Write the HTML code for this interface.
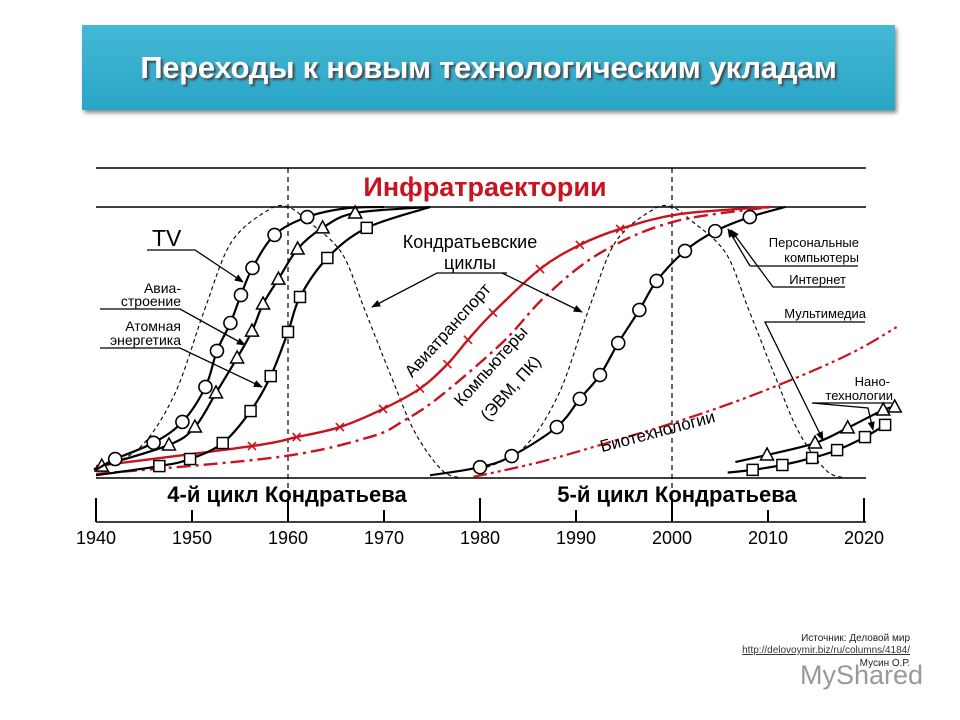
<!DOCTYPE html>
<html><head><meta charset="utf-8"><style>
body{margin:0;width:960px;height:720px;background:#fff;overflow:hidden;font-family:"Liberation Sans",sans-serif;position:relative}
#hdr{position:absolute;left:82px;top:25px;width:813px;height:85px;background:linear-gradient(#45b8d6,#2aa5c6);box-shadow:2px 3px 4px rgba(0,0,0,0.45);display:flex;align-items:center;justify-content:center}
#hdr span{color:#fff;font-weight:bold;font-size:31px;text-shadow:2px 2px 2px #444;letter-spacing:-0.3px;white-space:nowrap}
.src{position:absolute;right:50px;font-size:10px;color:#222;text-align:right}
</style></head><body>
<div id="hdr"><span>Переходы к новым технологическим укладам</span></div>
<svg id="chart" width="960" height="720" style="position:absolute;left:0;top:0"></svg>
<div class="src" style="top:633px">Источник: Деловой мир</div>
<div class="src" style="top:645px;text-decoration:underline;color:#333">http://delovoymir.biz/ru/columns/4184/</div>
<div class="src" style="top:658px">Мусин О.Р.</div>
<div style="position:absolute;left:800px;top:660px;font-size:27px;color:#777;opacity:0.75">MyShared</div>
<script>
const tickYears=[1940,1950,1960,1970,1980,1990,2000,2010,2020];
const tvYears=[1940,1942,1946,1949,1951.4,1952.6,1954,1955.1,1956.3,1958.6,1962,1966,1970];
const tvValues=[3,7,13,20.7,33.6,46.9,57.2,67.5,77.5,89.7,96.3,99.5,100];
const aviaYears=[1940,1940.6,1947.6,1950.3,1952.5,1954.7,1956.25,1957.4,1959,1961,1963.6,1967,1974.8];
const aviaValues=[3,4.4,12.2,18.8,31.4,44.3,54.2,64.2,73.4,84.5,92.3,97.8,100];
const atomYears=[1940,1946.6,1949.8,1953.2,1956.1,1958.2,1960,1961.25,1964.1,1968.2,1974.8];
const atomValues=[1,4.4,7,12.9,24.7,37.6,53.9,66.8,81.2,92.3,100];
const airYears=[1940,1956.25,1960.9,1965.4,1969.9,1973.75,1976.6,1978.75,1981.35,1986.25,1990.4,1994.6,2000.8,2010.2];
const airValues=[4.4,11.8,15.1,18.8,25.5,33,42,51,61,77.1,86,91.9,97.4,100];
const compYears=[1940,1958.9,1968.5,1972,1975.8,1982.4,1986.8,1992.5,2000.1,2010.2];
const compValues=[1.5,7.7,15.1,21,30,50.2,67,83,94.5,100];
const k1Years=[1940,1944.5,1948.2,1951.3,1954.1,1958,1960,1962,1965.6,1968,1970.8,1973.2,1976,1978];
const k1Values=[3,11,31,62,87,99,100,95,83,62,37,17,3,0];
const k2Years=[1980,1984.5,1988.2,1991.3,1994.1,1998,2000,2002,2005.6,2008,2010.8,2013.2,2016,2018];
const k2Values=[3,11,31,62,87,99,100,95,83,62,37,17,3,0];
const pcYears=[1974.8,1980,1983.3,1988,1990.4,1992.5,1994.4,1996.6,1998.4,2001.35,2004.5,2008.1,2011.8];
const pcValues=[1,4,8.1,18.8,29.2,38,49.8,62,72.7,83.8,91.1,96.3,100];
const bioYears=[1979.3,1986.25,1993.2,2000.1,2007.1,2014.1,2019.3,2023.4];
const bioValues=[0.4,5.9,12.9,20.3,28.8,38.7,47.2,55.7];
const nanoTYears=[2006.6,2009.9,2014.9,2018.3,2022,2023.2];
const nanoTValues=[5.9,8.5,12.9,18.5,25.1,26.2];
const nanoSYears=[2005.8,2008.4,2011.5,2014.6,2017.2,2020.1,2022.2];
const nanoSValues=[2,3,4.8,7.4,10.3,15.1,19.6];

const svg=document.getElementById('chart');const NS='http://www.w3.org/2000/svg';
const X=y=>96+(y-1940)*9.6;const Y=v=>478-v*2.71;
function el(t,a,p){const e=document.createElementNS(NS,t);for(const k in a)e.setAttribute(k,a[k]);(p||svg).appendChild(e);return e;}
function smooth(xs,vs){const p=xs.map((x,i)=>[X(x),Y(vs[i])]);let d='M'+p[0][0]+','+p[0][1];
for(let i=0;i<p.length-1;i++){const p0=p[i-1]||p[i],p1=p[i],p2=p[i+1],p3=p[i+2]||p2;
d+=' C'+(p1[0]+(p2[0]-p0[0])/6)+','+(p1[1]+(p2[1]-p0[1])/6)+' '+(p2[0]-(p3[0]-p1[0])/6)+','+(p2[1]-(p3[1]-p1[1])/6)+' '+p2[0]+','+p2[1];}return d;}
function line(x1,y1,x2,y2,name,extra){const l=el('line',Object.assign({x1,y1,x2,y2,stroke:'#000','stroke-width':1.5},extra||{}));

return l;}
function text(x,y,s,size,name,extra){const t=el('text',Object.assign({x,y,'font-size':size,'font-family':'Liberation Sans, sans-serif'},extra||{}));t.textContent=s;

return t;}
line(96,168,866,168,'top-rule');line(96,207,866,207,'saturation-line');line(96,478,866,478,'baseline');line(96,522,866,522,'x-axis');
tickYears.forEach(y=>{const tall=(y-1940)%20===0;line(X(y),tall?498:510,X(y),522,'x-tick',{'stroke-width':2});
text(X(y),544,String(y),18,'x-tick-label',{'text-anchor':'middle'});});
[1960,2000].forEach(y=>line(X(y),168,X(y),522,'cycle-divider',{'stroke-width':1.2,'stroke-dasharray':'5,4'}));
text(485,196,'Инфратраектории',27,'infra-title',{'text-anchor':'middle','font-weight':'bold',fill:'#c8141e'});
text(287,502,'4-й цикл Кондратьева',22,'cycle-4-label',{'text-anchor':'middle','font-weight':'bold'});
text(677,502,'5-й цикл Кондратьева',22,'cycle-5-label',{'text-anchor':'middle','font-weight':'bold'});
function series(xs,vs,name,style,marker,ms,me){const p=el('path',Object.assign({d:smooth(xs,vs),fill:'none'},style));


for(let i=ms;i<xs.length-me;i++){const cx=X(xs[i]),cy=Y(vs[i]);let m;
if(marker==='circle')m=el('circle',{cx,cy,r:6.5,fill:'#fff',stroke:'#000','stroke-width':1.6});
else if(marker==='tri')m=el('polygon',{points:(cx)+','+(cy-7)+' '+(cx-6.5)+','+(cy+5)+' '+(cx+6.5)+','+(cy+5),fill:'#fff',stroke:'#000','stroke-width':1.5});
else if(marker==='sq')m=el('rect',{x:cx-5.5,y:cy-5.5,width:11,height:11,fill:'#fff',stroke:'#000','stroke-width':1.5});
else if(marker==='x')m=el('path',{d:`M${cx-4},${cy-4}L${cx+4},${cy+4}M${cx-4},${cy+4}L${cx+4},${cy-4}`,stroke:'#c8141e','stroke-width':1.6});
if(m){
}}}
const blk={stroke:'#000','stroke-width':2.2};const red='#c8141e';
series(k1Years,k1Values,'kondratiev-wave-4',{stroke:'#000','stroke-width':1.1,'stroke-dasharray':'4,3'},null,0,0);
series(k2Years,k2Values,'kondratiev-wave-5',{stroke:'#000','stroke-width':1.1,'stroke-dasharray':'4,3'},null,0,0);
series(compYears,compValues,'computers-line',{stroke:red,'stroke-width':2.4,'stroke-dasharray':'14,5,3,5'},null,0,0);
series(bioYears,bioValues,'biotech-line',{stroke:red,'stroke-width':2.2,'stroke-dasharray':'14,4,3,4,3,4'},null,0,0);
series(airYears,airValues,'air-transport-line',{stroke:red,'stroke-width':2.4},'x',1,2);
series(atomYears,atomValues,'nuclear-energy-line',blk,'sq',1,1);
series(aviaYears,aviaValues,'aircraft-line',blk,'tri',1,1);
series(tvYears,tvValues,'tv-line',blk,'circle',1,2);
series(pcYears,pcValues,'pc-internet-line',blk,'circle',1,1);
series(nanoTYears,nanoTValues,'nano-triangle-line',blk,'tri',1,0);
series(nanoSYears,nanoSValues,'nano-square-line',blk,'sq',1,0);
const defs=el('defs',{});const mk=el('marker',{id:'ah',viewBox:'0 0 10 10',refX:9,refY:5,markerWidth:7,markerHeight:7,orient:'auto'},defs);el('path',{d:'M0,1L10,5L0,9z',fill:'#000'},mk);
function arrow(pts,name){const p=el('polyline',{points:pts,fill:'none',stroke:'#000','stroke-width':1.3,'marker-end':'url(#ah)'});

}
text(152,246,'TV',23,'tv-label');arrow('147,250 195,250 243,282','tv-arrow');
text(181,293,'Авиа-',14,'aircraft-label',{'text-anchor':'end'});text(181,306,'строение',14,'aircraft-label-2',{'text-anchor':'end'});
arrow('100,309 180,309 245,345','aircraft-arrow');
text(181,331,'Атомная',14,'nuclear-label',{'text-anchor':'end'});text(181,345,'энергетика',14,'nuclear-label-2',{'text-anchor':'end'});
arrow('100,348 180,348 262,387','nuclear-arrow');
text(470,248,'Кондратьевские',18,'waves-label',{'text-anchor':'middle'});text(470,269,'циклы',18,'waves-label-2',{'text-anchor':'middle'});
arrow('507,273 437,273 372,307','waves-arrow-1');arrow('502,273 582,312','waves-arrow-2');
text(452,334,'Авиатранспорт',17,'air-transport-label',{'text-anchor':'middle',transform:'rotate(-48 452 334)'});
text(495,370,'Компьютеры',17,'computers-label',{'text-anchor':'middle',transform:'rotate(-48 495 370)'});
text(515,392,'(ЭВМ, ПК)',17,'computers-label-2',{'text-anchor':'middle',transform:'rotate(-48 515 392)'});
text(659,437,'Биотехнологии',17,'biotech-label',{'text-anchor':'middle',transform:'rotate(-15 659 437)'});
text(859,247,'Персональные',13,'pc-label',{'text-anchor':'end'});text(859,262,'компьютеры',13,'pc-label-2',{'text-anchor':'end'});
line(750,266,858,266,'pc-underline',{'stroke-width':1.2});arrow('750,266 728,229','pc-arrow');
text(846,284,'Интернет',13,'internet-label',{'text-anchor':'end'});arrow('845,287 773,287 731,230','internet-arrow');
text(866,318,'Мультимедиа',13,'multimedia-label',{'text-anchor':'end'});arrow('865,322 765,322 823,440','multimedia-arrow');
text(890,386,'Нано-',13,'nano-label',{'text-anchor':'end'});text(893,400,'технологии',13,'nano-label-2',{'text-anchor':'end'});
arrow('892,403 812,403 868,408 873,430','nano-arrow');
</script></body></html>
